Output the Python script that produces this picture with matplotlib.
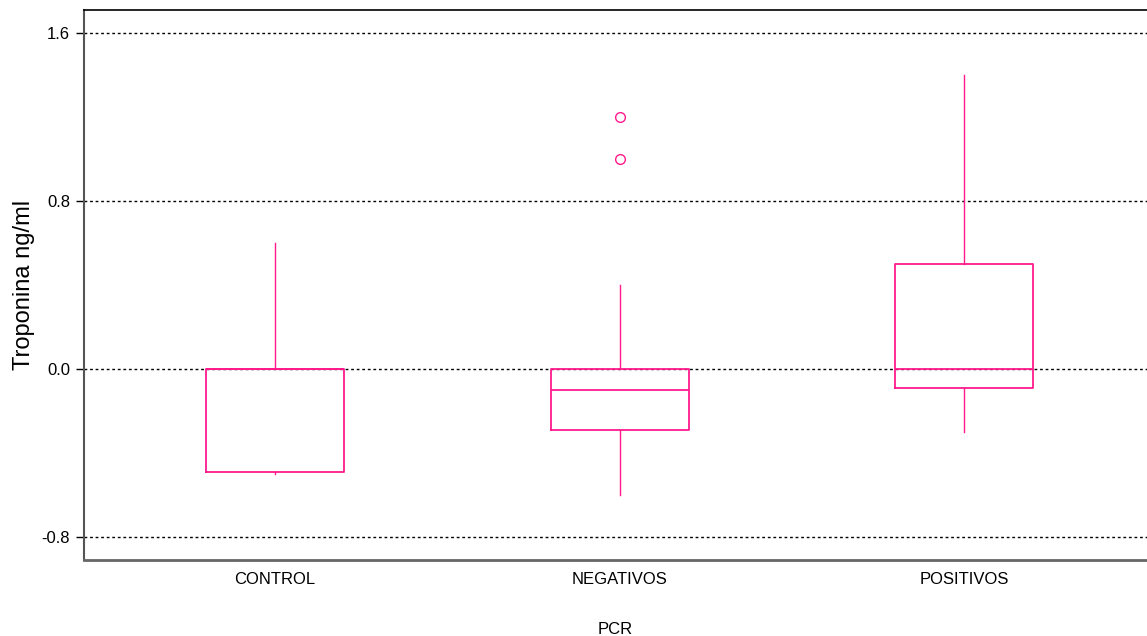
import matplotlib
matplotlib.use("Agg")
import matplotlib.pyplot as plt
from matplotlib import font_manager

names = {f.name for f in font_manager.fontManager.ttflist}
narrow = "Liberation Sans Narrow" if "Liberation Sans Narrow" in names else "Liberation Sans"

categories = ["CONTROL", "NEGATIVOS", "POSITIVOS"]
q1 = [-0.49, -0.29, -0.09]
medians = [0.0, -0.10, 0.0]
q3 = [0.0, 0.0, 0.50]
whislo = [-0.50, -0.60, -0.30]
whishi = [0.60, 0.40, 1.40]
fliers = [[], [1.0, 1.2], []]
yticks = [-0.8, 0.0, 0.8, 1.6]
ytick_labels = ["-0.8", "0.0", "0.8", "1.6"]

color = "#ff1a8c"

fig = plt.figure(figsize=(11.47, 6.36), dpi=100)
ax = fig.add_axes([84/1147, 1 - 560/636, 1 - 84/1147, 550/636])

stats = []
for i, c in enumerate(categories):
    stats.append(dict(label=c, q1=q1[i], med=medians[i], q3=q3[i],
                      whislo=whislo[i], whishi=whishi[i], fliers=fliers[i]))

ax.bxp(stats, positions=[1, 2, 3], widths=0.4, showcaps=False,
       boxprops=dict(color=color, linewidth=1.3),
       medianprops=dict(color=color, linewidth=1.3),
       whiskerprops=dict(color=color, linewidth=1.0),
       flierprops=dict(marker="o", markerfacecolor="none", markeredgecolor=color,
                       markersize=7, markeredgewidth=1.0))

ax.set_xlim(0.446, 3.53)
ax.set_ylim(-0.91, 1.71)
ax.set_yticks(yticks)
ax.set_yticklabels(ytick_labels, fontsize=12, family="Liberation Sans")
ax.set_xticks([1, 2, 3])
ax.set_xticklabels(categories, fontsize=12, family=narrow)
ax.tick_params(axis="x", length=0, pad=9)
ax.tick_params(axis="y", length=6, width=1, pad=4, direction="out")
ax.yaxis.grid(True, linestyle=(0, (2, 2)), color="black", linewidth=1.0)
ax.set_axisbelow(True)

ax.spines["right"].set_visible(False)
ax.spines["top"].set_color("black")
ax.spines["top"].set_linewidth(1.2)
ax.spines["left"].set_color("#555555")
ax.spines["left"].set_linewidth(1.5)
ax.spines["bottom"].set_color("#666666")
ax.spines["bottom"].set_linewidth(2)

ax.set_ylabel("Troponina ng/ml", fontsize=17, family="Liberation Sans", labelpad=5)
ax.set_xlabel("PCR", fontsize=12, family=narrow, labelpad=25)

fig.savefig("out.png", dpi=100)
